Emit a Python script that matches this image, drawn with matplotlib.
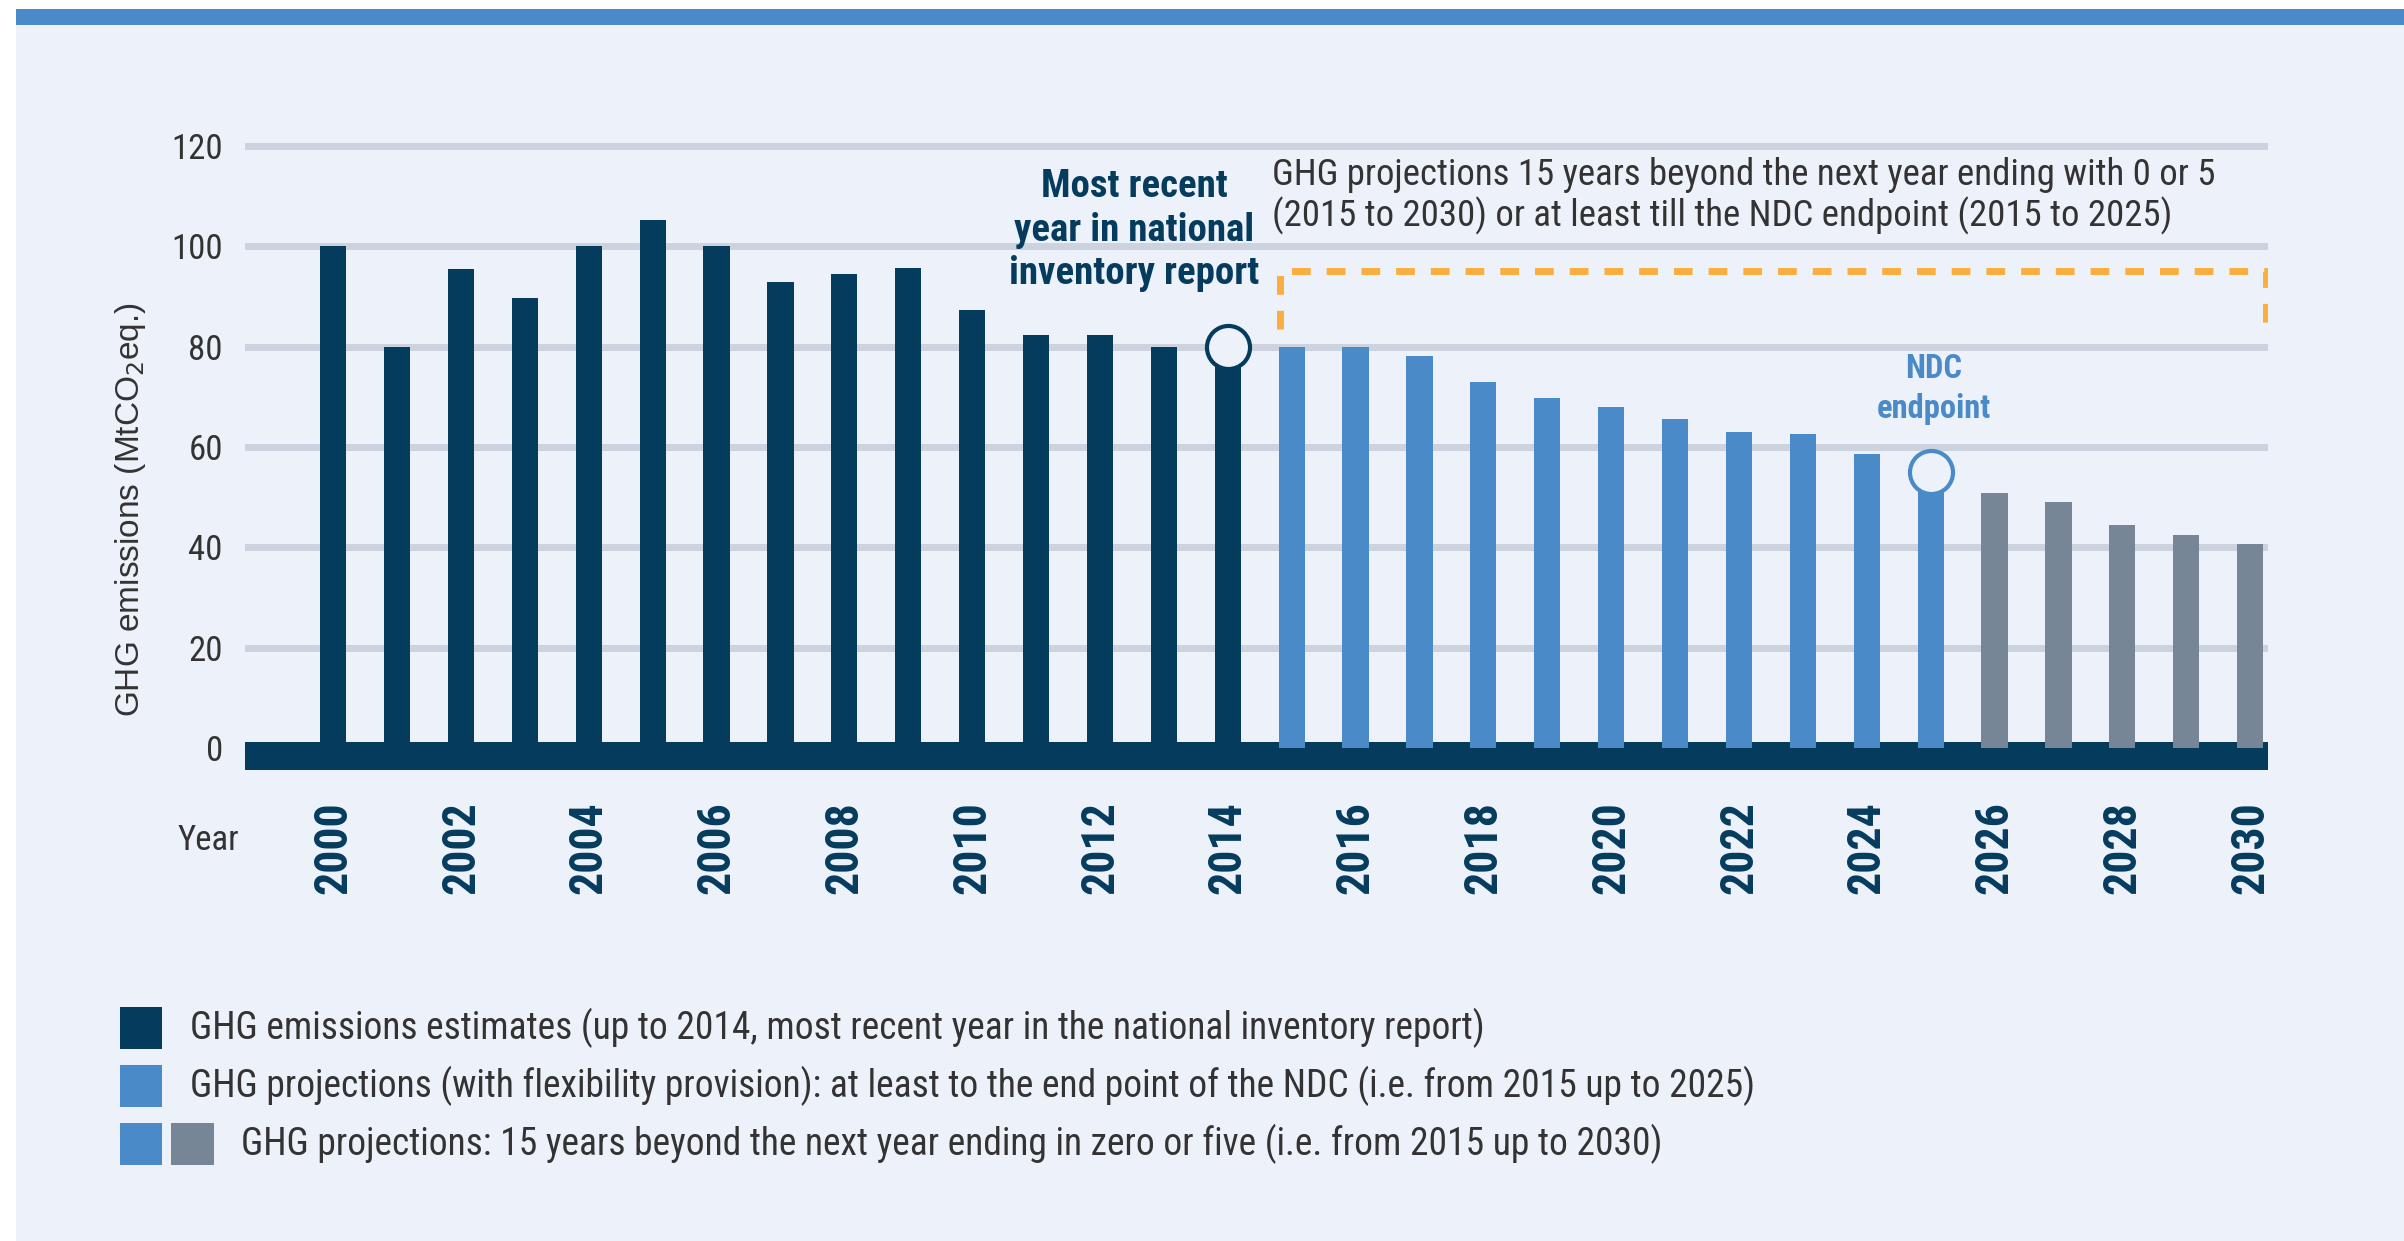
import matplotlib
matplotlib.use('Agg')
import matplotlib.pyplot as plt
from matplotlib import font_manager
from matplotlib.patches import Rectangle

# data (MtCO2eq.)
est_years = list(range(2000, 2015))
estimates = [100, 80, 95.5, 89.7, 100, 105.2, 100, 92.9, 94.5, 95.7, 87.4, 82.3, 82.3, 80, 80]
ndc_years = list(range(2015, 2026))
ndc_projections = [80, 80, 78.2, 73, 69.8, 68, 65.5, 63, 62.5, 58.6, 55]
ext_years = list(range(2026, 2031))
ext_projections = [50.8, 49.1, 44.5, 42.4, 40.7]

y_ticks = [0, 20, 40, 60, 80, 100, 120]
x_ticks = list(range(2000, 2031, 2))

legend_labels = [
    'GHG emissions estimates (up to 2014, most recent year in the national inventory report)',
    'GHG projections (with flexibility provision): at least to the end point of the NDC (i.e. from 2015 up to 2025)',
    'GHG projections: 15 years beyond the next year ending in zero or five (i.e. from 2015 up to 2030)',
]

NAVY = '#053c5e'
BLUE = '#4a8ac8'
GREY = '#768696'
ORANGE = '#fbae40'
BG = '#edf2fa'
GRID = '#ccd3de'
TEXT = '#333333'

available = {f.name for f in font_manager.fontManager.ttflist}
narrow = next((f for f in ['Liberation Sans Narrow', 'DejaVu Sans Condensed', 'Roboto Condensed']
               if f in available), 'Liberation Sans')
plt.rcParams['font.family'] = [narrow, 'DejaVu Sans']

W, H = 2404, 1241
fig = plt.figure(figsize=(W / 100, H / 100), dpi=100)
fig.patch.set_facecolor('white')


def px_rect(x, y, w, h, color, z=1):
    # rectangle given in pixels from the top-left corner of the figure
    fig.add_artist(Rectangle((x / W, 1 - (y + h) / H), w / W, h / H,
                             transform=fig.transFigure, color=color, lw=0, zorder=z))


px_rect(16, 9, W - 16, H - 9, BG, z=-10)
px_rect(16, 9, W - 16, 16, BLUE, z=-9)

ax = fig.add_axes([245 / W, (H - 778) / H, (2268 - 245) / W, (778 - 126) / H])
ax.patch.set_visible(False)
ax.set_xlim(1998.62, 2030.28)
ax.set_ylim(-6, 124)

for y in y_ticks[1:]:
    ax.axhline(y, color=GRID, lw=5, zorder=0)
ax.axhspan(-4.45, 1.25, color=NAVY, lw=0, zorder=1)

ax.bar(est_years, estimates, width=0.41, color=NAVY, zorder=2)
ax.bar(ndc_years, ndc_projections, width=0.41, color=BLUE, zorder=2)
ax.bar(ext_years, ext_projections, width=0.41, color=GREY, zorder=2)

ax.plot(est_years[-1], estimates[-1], 'o', ms=31, mfc=BG, mec=NAVY, mew=3, zorder=3)
ax.plot(ndc_years[-1], ndc_projections[-1], 'o', ms=31, mfc=BG, mec=BLUE, mew=3, zorder=3)

ax.plot([2014.82, 2014.82, 2030.25, 2030.25], [83.5, 95.1, 95.1, 83.5],
        color=ORANGE, lw=5, dashes=(2.7, 2.3), dash_capstyle='butt', zorder=3)

ax.text(2014.69, 110.0,
        'GHG projections 15 years beyond the next year ending with 0 or 5\n'
        '(2015 to 2030) or at least till the NDC endpoint (2015 to 2025)',
        ha='left', va='center', fontsize=26.5, color=TEXT, linespacing=1.12)
ax.text(2012.54, 103.2, 'Most recent\nyear in national\ninventory report',
        ha='center', va='center', fontsize=28, fontweight='bold', color=NAVY, linespacing=1.22)
ax.text(2025.05, 71.6, 'NDC\nendpoint', ha='center', va='center', fontsize=23.5,
        fontweight='bold', color=BLUE, linespacing=1.3)

ax.set_yticks(y_ticks)
ax.set_yticklabels([str(v) for v in y_ticks], fontsize=25, color=TEXT)
ax.set_xticks(x_ticks)
ax.set_xticklabels([str(v) for v in x_ticks], rotation=90, fontsize=33,
                   fontweight='bold', color=NAVY)
ax.tick_params(axis='y', length=0, pad=16)
ax.tick_params(axis='x', length=0, pad=17)
for side in ax.spines.values():
    side.set_visible(False)

fig.text(130 / W, 1 - 510 / H, 'GHG emissions (MtCO$_2$eq.)', rotation=90,
         ha='center', va='center', fontsize=24, color=TEXT, family='Liberation Sans')
fig.text(178 / W, 1 - 840 / H, 'Year', ha='left', va='center', fontsize=25, color=TEXT)

# legend built from plain patches, like the original layout
rows = [1007, 1065, 1123]
px_rect(120, rows[0], 42, 42, NAVY)
px_rect(120, rows[1], 42, 42, BLUE)
px_rect(120, rows[2], 42, 42, BLUE)
px_rect(171, rows[2], 43, 42, GREY)
text_x = [190, 190, 241]
for top, tx, label in zip(rows, text_x, legend_labels):
    fig.text(tx / W, 1 - (top + 21) / H, label, ha='left', va='center',
             fontsize=27, color=TEXT)

fig.savefig('out.png', dpi=100, facecolor=fig.get_facecolor())
